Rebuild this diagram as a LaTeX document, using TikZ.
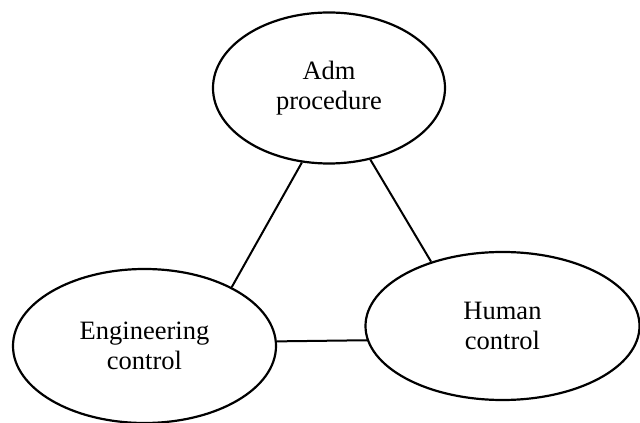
\documentclass[tikz,border=0pt]{standalone}
\usepackage{fontspec}
\setmainfont{Liberation Serif}
\usetikzlibrary{shapes.geometric}
\begin{document}
\begin{tikzpicture}[x=1pt,y=1pt,
    bubble/.style={ellipse,draw=black,line width=2.2pt,inner sep=0pt,align=center,
        font=\fontsize{26.5}{30}\selectfont},
    link/.style={line width=2pt}]
        \useasboundingbox (0,0) rectangle (640,423);

        % Ellipses
        \node[bubble,minimum width=232,minimum height=151] (adm) at (329,335) {Adm\\procedure};
        \node[bubble,minimum width=263,minimum height=154] (eng) at (144.5,77) {Engineering\\control};
        \node[bubble,minimum width=274,minimum height=148] (hum) at (502.5,97) {Human\\control};

        % Links
        \draw[link] (adm.250) -- (eng.34);
        \draw[link] (adm.300) -- (hum.138);
        \draw[link] (eng.2.6) -- (hum.186.4);
    \end{tikzpicture}
\end{document}
